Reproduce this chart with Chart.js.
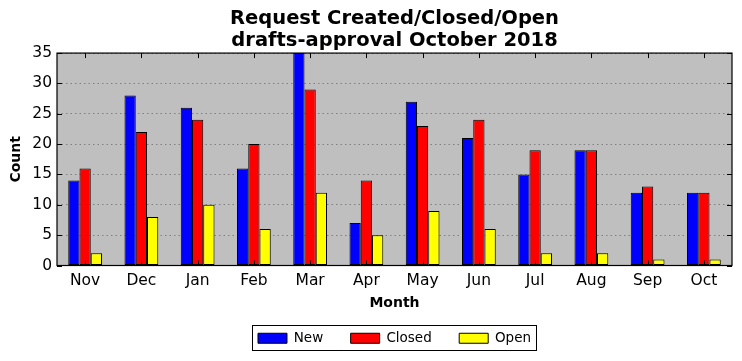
<!DOCTYPE html>
<html>
<head>
<meta charset="utf-8">
<script src="https://cdn.jsdelivr.net/npm/chart.js@4/dist/chart.umd.min.js"></script>
<style>
  html, body { margin: 0; padding: 0; background: #fff; }
  #wrap { width: 742px; height: 361px; }
</style>
</head>
<body>
<div id="wrap"><canvas id="c" width="742" height="361"></canvas></div>
<script>
const months = ['Nov', 'Dec', 'Jan', 'Feb', 'Mar', 'Apr', 'May', 'Jun', 'Jul', 'Aug', 'Sep', 'Oct'];
const newCounts = [14, 28, 26, 16, 35, 7, 27, 21, 15, 19, 12, 12];
const closedCounts = [16, 22, 24, 20, 29, 14, 23, 24, 19, 19, 13, 12];
const openCounts = [2, 8, 10, 6, 12, 5, 9, 6, 2, 2, 1, 1];
const yTicks = [0, 5, 10, 15, 20, 25, 30, 35];

const FONT = 'DejaVu Sans';
const GAP = '     '; // spacing between legend entries

// grey plot background, frame, inward ticks, legend border
const decor = {
  id: 'decor',
  beforeDraw(chart) {
    const { ctx, chartArea: a } = chart;
    ctx.save();
    ctx.fillStyle = '#bfbfbf';
    ctx.fillRect(a.left, a.top, a.right - a.left, a.bottom - a.top);
    ctx.restore();
  },
  afterDraw(chart) {
    const { ctx, chartArea: a, scales } = chart;
    ctx.save();
    ctx.strokeStyle = '#000';
    ctx.lineWidth = 1;
    ctx.beginPath();
    scales.x.ticks.forEach((t, i) => {
      const x = Math.round(scales.x.getPixelForTick(i)) + 0.5;
      ctx.moveTo(x, a.bottom); ctx.lineTo(x, a.bottom - 5);
      ctx.moveTo(x, a.top); ctx.lineTo(x, a.top + 5);
    });
    yTicks.forEach(v => {
      const y = Math.round(scales.y.getPixelForValue(v)) + 0.5;
      ctx.moveTo(a.left, y); ctx.lineTo(a.left + 5, y);
      ctx.moveTo(a.right, y); ctx.lineTo(a.right - 5, y);
    });
    ctx.stroke();
    ctx.lineWidth = 1.2;
    ctx.strokeRect(a.left, a.top, a.right - a.left, a.bottom - a.top);

    // border around the legend entries only
    const hb = chart.legend.legendHitBoxes;
    const last = hb[hb.length - 1];
    const l = Math.round(hb[0].left) - 5.5;
    const r = Math.round(last.left + last.width) + 5.5;
    const t = Math.round(hb[0].top + hb[0].height / 2) - 12.5;
    ctx.lineWidth = 1;
    ctx.strokeRect(l, t, r - l, 25);
    ctx.restore();
  }
};

new Chart(document.getElementById('c'), {
  type: 'bar',
  data: {
    labels: months,
    datasets: [
      { label: 'New', data: newCounts, backgroundColor: '#0000ff' },
      { label: 'Closed', data: closedCounts, backgroundColor: '#ff0000' },
      { label: 'Open', data: openCounts, backgroundColor: '#ffff00' }
    ].map(d => Object.assign(d, {
      borderColor: '#000', borderWidth: 1, borderSkipped: false,
      categoryPercentage: 0.6, barPercentage: 1.0
    }))
  },
  options: {
    responsive: false,
    animation: false,
    layout: { padding: { left: 0, right: 10, top: 8, bottom: 6 } },
    plugins: {
      title: {
        display: true,
        fullSize: false,
        text: ['Request Created/Closed/Open', 'drafts-approval October 2018'],
        color: '#000',
        font: { family: FONT, size: 19.5, weight: 'bold', lineHeight: 1.13 },
        padding: { top: 0, bottom: 1 }
      },
      legend: {
        position: 'bottom',
        fullSize: false,
        labels: {
          color: '#000',
          font: { family: FONT, size: 13.5 },
          boxWidth: 29, boxHeight: 10,
          padding: 6,
          generateLabels(chart) {
            const items = Chart.defaults.plugins.legend.labels.generateLabels(chart);
            items.forEach((it, i) => { if (i < items.length - 1) it.text += GAP; });
            return items;
          }
        }
      },
      tooltip: { enabled: false }
    },
    scales: {
      x: {
        afterFit(s) { s.height = 60; },
        grid: { display: false, drawTicks: false },
        border: { display: false },
        ticks: { color: '#000', font: { family: FONT, size: 15.5 }, padding: 6 },
        title: { display: true, text: 'Month', color: '#000', font: { family: FONT, size: 14, weight: 'bold' }, padding: { top: 0, bottom: 14 } }
      },
      y: {
        min: 0, max: 35,
        afterFit(s) { s.width = 57; },
        grid: { color: '#7f7f7f', drawTicks: false },
        border: { display: false, dash: [1.5, 3] },
        ticks: { stepSize: 5, color: '#000', font: { family: FONT, size: 15.5 }, padding: 5 },
        title: { display: true, text: 'Count', color: '#000', font: { family: FONT, size: 14, weight: 'bold' }, padding: { top: 7.5, bottom: 0 } }
      }
    }
  },
  plugins: [decor]
});
</script>
</body>
</html>
